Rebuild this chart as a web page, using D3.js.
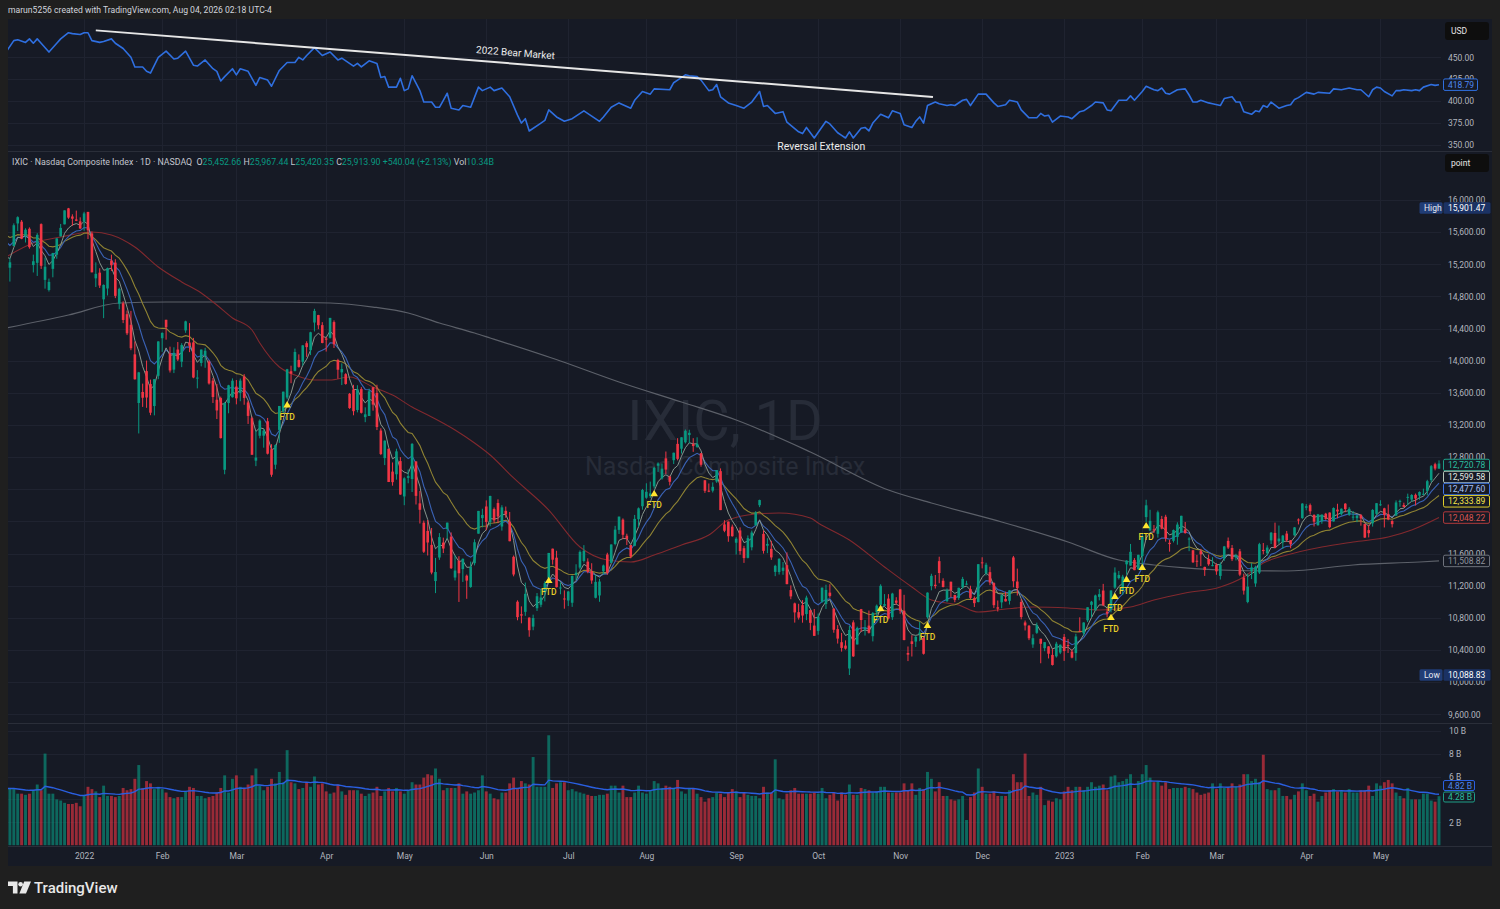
<!DOCTYPE html>
<html><head><meta charset="utf-8">
<script src="https://cdn.jsdelivr.net/npm/d3@7"></script>
<style>html,body{margin:0;padding:0;background:#1f1f1f;}svg{display:block;}</style>
</head><body>
<svg id="c" width="1500" height="909"></svg>
<script>
// ---------------- DATA ----------------
const holidays = ["2021-12-24","2022-01-17","2022-02-21","2022-04-15","2022-05-30","2022-06-20","2022-07-04","2022-09-05","2022-11-24","2022-12-26","2023-01-02","2023-01-16","2023-02-20","2023-04-07"];
const monthLabels = ["2022","Feb","Mar","Apr","May","Jun","Jul","Aug","Sep","Oct","Nov","Dec","2023","Feb","Mar","Apr","May"];

const opens = [
15404,15157,15427,15708,15730,15560,15642,15190,15218,15700,15006,14880,15143,15319,15547,15697,15896,15795,15758,15734,
15732,15852,15584,15025,15096,14764,14899,15246,15221,14709,14715,14579,14447,14079,13474,13611,13871,13710,13436,13812,
14280,14509,14090,13889,14139,13988,14377,14226,14228,13778,13972,14060,13990,13752,13514,13535,12643,13473,13546,
13678,13600,13803,13481,13284,12756,13066,13067,13247,12898,12706,13139,13370,13542,13869,13874,14010,13987,14218,14131,14475,14568,14443,
14277,14285,14481,14008,13855,13833,13588,13643,13387,13647,13298,13312,13670,13599,13131,12788,12904,12620,12587,12751,
12311,12542,12527,12747,12225,11984,11882,11708,11258,11551,11737,11906,11811,11302,11510,11407,11325,11184,11480,11848,12041,
12186,11994,12154,12229,11937,12132,11997,11560,11001,10845,10875,10803,10691,10920,10963,11116,11297,11661,11549,11178,11041,
11016,10988,11334,11426,11508,11500,11379,11050,11079,11379,11588,11484,11720,11895,12022,11822,11706,11697,12028,12189,
12295,12316,12437,12693,12535,12785,12558,12762,12965,12905,12985,13075,12963,12928,12849,12512,12383,12383,12497,12626,11963,11998,11935,
11735,11888,11667,11547,11678,11951,12202,11845,11698,11659,11372,11370,11385,11456,11146,10980,10871,10958,10847,10897,10704,
10638,11001,10973,11114,10913,10660,10497,10455,10170,10744,10469,10908,10654,10704,10572,10870,10963,10950,11040,10808,11016,
11154,10889,10363,10508,10505,10598,10548,10808,11196,11212,11506,11262,11010,11250,11084,11048,11181,11226,11158,11046,10997,
11491,11356,11369,11233,10932,10993,11036,11012,11552,11252,10998,10743,10702,10469,10614,10540,10423,10445,10339,10321,10368,
10563,10462,10380,10362,10638,10609,10770,10962,10893,11061,11140,10877,10902,11177,11295,11139,11466,11451,11521,11404,
11568,12054,11888,11901,11846,12030,12058,11734,11759,11807,11864,11900,11779,11641,11511,11631,11434,11533,11453,
11459,11322,11537,11758,11669,11551,11628,11302,10998,11380,11228,11364,11646,11604,11764,11857,11752,11739,11849,11766,11827,12024,12042,
12170,12203,12081,11953,12002,12096,12110,12000,12147,12090,12221,12083,12050,12041,12079,11967,11892,11976,12095,
12210,12163,12092,12006,12073,12243,12204,12306,12272,12331,12321,12336,12380,12514,12712,12657];

const highs = [
15422,15280,15709,15797,15751,15648,15659,15320,15587,15709,15284,15022,15342,15524,15702,15871,15901.47,15822,15868,15784,
15853,15852,15608,15224,15151,14950,15159,15320,15263,14909,14740,14624,14620,14239,13861,13715,14002,13765,13771,14242,
14353,14510,14175,14167,14233,14218,14498,14468,14284,13883,14139,14161,14005,13785,13711,13553,13484,13700,13780,
13760,13778,13833,13501,13305,13132,13270,13150,13288,12961,12960,13437,13615,13899,13938,14151,14079,14194,14242,14360,14646,14571,14480,
14296,14533,14502,14024,13967,13845,13598,13700,13695,13671,13420,13652,13673,13701,13159,13008,12904,12734,12905,12800,
12549,12646,12975,12747,12379,12011,12018,11919,11546,11855,11798,11984,11863,11579,11567,11539,11339,11500,11778,12131,12158,
12262,12320,12174,12275,12202,12185,12118,11576,11018,10943,11239,10807,10840,11109,11148,11257,11608,11662,11635,11240,11142,
11135,11326,11467,11639,11705,11541,11480,11334,11286,11463,11610,11714,11945,12060,12038,11847,11706,12081,12174,12405,
12475,12496,12681,12735,12719,12870,12569,12856,13036,13047,13144,13141,13036,13047,12849,12514,12472,12486,12639,12660,12015,12000,11961,
11804,11926,11696,11826,11886,12128,12271,11887,11791,11759,11461,11541,11495,11615,11204,10990,10975,11021,11076,10898,10910,
10854,11177,11213,11219,10923,10710,10613,10520,10701,10770,10691,10911,10773,10891,10873,10966,11218,11096,11095,11112,11057,
11158,11087,10444,10584,10578,10749,10563,11117,11349,11334,11561,11293,11166,11250,11088,11176,11310,11262,11200,11066,11468,
11554,11486,11436,11244,11016,11094,11126,11143,11571,11413,11032,10767,10712,10595,10741,10540,10498,10447,10414,10502,10468,
10599,10538,10410,10602,10807,10746,10933,11011,11089,11159,11223,10922,11144,11428,11384,11336,11518,11720,11544,11585,
11849,12270,12145,11955,12135,12069,12083,11771,11899,11989,12071,11993,11803,11647,11584,11658,11437,11589,11555,
11480,11491,11695,11800,11707,11598,11658,11350,11351,11481,11449,11734,11732,11703,11869,11985,11949,11832,11882,11767,11929,12038,12227,
12216,12223,12089,12094,12086,12107,12113,12175,12220,12162,12228,12178,12130,12083,12093,11974,11959,12153,12227,
12264,12170,12211,12015,12262,12271,12233,12346,12340,12347,12374,12408,12518,12702,12731,12760];

const lows = [
14931,14985,15427,15615,15512,15471,15394,15098,15055,15142,14897,14861,15038,15269,15547,15697,15766,15679,15737,15643,
15618,15514,15100,14917,14905,14530,14812,15117,14779,14640,14468,14319,14131,13765,13095,13425,13414,13322,13320,13770,
14110,14262,13853,13846,13996,13920,14347,14107,13782,13656,13930,13912,13703,13474,13274,13032,12587,13346,13541,
13457,13496,13452,13213,12828,12688,13034,12918,12833,12555,12650,12978,13344,13520,13720,13867,13913,13938,14048,14070,14364,14392,14217,
14114,14275,14158,13776,13697,13702,13400,13321,13357,13343,13235,13312,13378,13137,12826,12701,12490,12445,12520,12331,
12202,12475,12366,12211,11974,11607,11576,11342,11108,11522,11606,11779,11408,11265,10998,11247,11037,11174,11453,11848,11927,
11890,11940,11980,11979,11885,12046,11753,11317,10770,10732,10825,10565,10646,10886,10933,11005,11296,11463,11178,11094,10914,
10947,10937,11271,11404,11488,11355,11224,11042,11000,11341,11337,11484,11703,11844,11780,11706,11541,11691,11929,12146,
12282,12291,12410,12616,12520,12589,12448,12714,12760,12845,12970,12975,12866,12916,12681,12355,12364,12360,12480,12141,11866,11747,11811,
11588,11586,11484,11540,11640,11951,12178,11600,11605,11522,11319,11339,11336,11218,11032,10741,10779,10740,10771,10647,10575,
10590,10988,10910,11050,10615,10480,10380,10405,10088.83,10314,10469,10625,10580,10605,10507,10760,10950,10945,10781,10775,10964,
10850,10521,10262,10319,10438,10510,10343,10790,11143,11165,11231,11179,10995,11057,10994,11024,11161,11209,11032,10935,10993,
11416,11327,11207,10922,10879,10919,11003,10966,11180,11078,10782,10643,10523,10427,10601,10235,10385,10295,10207,10306,10349,
10265,10363,10296,10266,10626,10577,10748,10807,10891,11017,10945,10807,10868,11161,11278,11084,11337,11449,11393,11403,
11443,11994,11883,11857,11798,11902,11749,11624,11738,11710,11858,11848,11630,11483,11434,11444,11322,11448,11442,
11336,11277,11510,11657,11507,11515,11319,11090,10982,11283,11186,11346,11591,11573,11719,11665,11723,11657,11745,11666,11821,11963,12032,
12139,12090,11937,11947,11971,12020,11915,11997,12039,12074,12115,12069,12012,11990,11947,11795,11801,11936,12080,
12193,11925,12015,11925,12071,12182,12175,12202,12245,12199,12271,12328,12324,12486,12636,12656];

const closes = [
15085,15225,15686,15786,15518,15630,15413,15238,15566,15181,15170,14981,15341,15522,15653,15871,15781,15767,15741,15645,
15833,15623,15100,15081,14936,14943,15153,15188,14807,14894,14507,14341,14155,13769,13855,13539,13542,13353,13771,14240,
14346,14417,13879,14098,14015,14195,14490,14186,13791,13790,14139,14124,13717,13548,13381,13037,13473,13694,13751,
13532,13752,13537,13313,12830,12795,13255,13130,12843,12581,12949,13437,13615,13894,13839,14109,13923,14191,14169,14354,14620,14442,14221,
14262,14533,14204,13888,13897,13711,13411,13372,13644,13352,13333,13619,13454,13175,12839,13005,12491,12489,12872,12335,
12536,12564,12965,12318,12145,11623,11738,11364,11371,11805,11663,11985,11418,11389,11355,11535,11264,11434,11741,12131,12081,
11994,12317,12013,12061,12175,12086,11754,11340,10809,10828,11099,10646,10798,11069,11053,11232,11608,11524,11182,11178,11029,
11128,11322,11362,11621,11635,11372,11265,11248,11252,11452,11360,11713,11898,12060,11834,11782,11563,12032,12163,12391,
12369,12349,12668,12721,12657,12645,12493,12855,12779,13047,13128,13103,12938,12966,12705,12381,12381,12431,12639,12141,11884,11816,11816,
11785,11631,11544,11792,11862,12112,12266,11634,11720,11552,11448,11535,11425,11220,11067,10868,10803,10829,11052,10738,10576,
10815,11176,11148,11073,10652,10542,10426,10417,10649,10321,10675,10773,10680,10614,10860,10952,11199,10971,10792,11102,10988,
10890,10524,10342,10475,10564,10616,10353,11114,11323,11196,11358,11184,11144,11146,11024,11174,11285,11226,11049,10983,11468,
11482,11461,11240,10958,10914,11082,11005,11143,11256,11170,10811,10705,10546,10547,10709,10477,10498,10354,10214,10479,10466,
10387,10459,10305,10569,10636,10742,10932,11001,11079,11095,10958,10852,11140,11364,11334,11313,11512,11622,11394,11585,
11816,12201,12007,11887,12114,11910,11790,11718,11892,11961,12070,11855,11787,11492,11507,11590,11395,11467,11456,
11379,11462,11689,11675,11530,11576,11338,11139,11189,11428,11434,11717,11631,11675,11860,11670,11787,11824,11768,11716,11926,12013,12222,
12189,12126,11997,12088,12085,12032,11929,12167,12124,12158,12154,12157,12060,12073,12037,11799,11854,12143,12227,
12213,12081,12025,11966,12236,12256,12180,12306,12329,12285,12366,12344,12501,12688,12658,12720.78];

// volume in billions
const volumes = [
5.7,5.0,4.9,4.5,4.5,4.4,4.5,4.8,5.3,4.8, 8.0,4.5,4.5,4.0,3.9,3.7,3.6,3.6,3.7,3.4,
4.3,5.1,4.9,4.7,4.2,5.2,4.3,4.3,4.2,4.3, 5.0,4.8,4.9,5.8,7.0,5.0,5.6,5.4,4.9,5.1,
4.9,4.6,4.2,4.1,4.2,4.2,4.7,5.1,5.0,4.3, 4.3,4.1,4.2,4.3,4.6,5.0,6.1,4.6,5.8,6.1,
5.1,5.0,5.3,6.1,6.7,5.2,4.8,5.1,5.8,5.4, 6.4,5.5,8.3,5.5,5.4,4.9,5.0,5.5,5.1,6.0,
5.3,5.4,4.7,4.5,4.6,5.3,4.7,4.4,4.8,4.8, 4.8,4.5,4.3,4.5,4.6,5.1,4.3,4.7,5.0,4.7,
5.0,4.7,4.5,4.8,5.5,5.3,5.3,5.9,6.2,6.1, 6.7,5.8,4.8,5.0,5.0,5.0,5.4,4.5,4.7,4.5,
4.6,4.8,6.1,4.7,4.5,4.1,4.0,4.6,4.6,5.4, 5.9,4.9,5.6,5.4,5.3,7.7,5.1,5.1,5.1,9.6,
5.0,5.4,5.5,5.5,4.8,4.9,4.7,4.6,4.5,4.4, 4.3,4.3,4.4,4.4,4.5,5.2,5.2,4.6,5.2,4.2,
4.2,4.6,5.2,4.6,4.5,4.8,5.6,5.4,5.0,5.2, 5.1,5.0,5.7,4.7,4.5,5.0,5.0,4.5,4.2,3.8,
4.1,4.2,4.6,4.5,4.2,4.6,4.9,4.7,4.2,4.6, 4.4,4.3,4.3,4.1,5.1,4.6,4.6,7.5,4.1,4.0,
4.5,4.8,5.0,4.5,4.5,4.5,4.5,4.6,4.5,5.0, 4.1,4.4,4.6,3.9,4.6,4.4,5.3,4.4,4.4,5.0,
4.9,4.8,4.6,4.7,5.1,5.1,4.6,4.6,4.6,4.6, 5.4,4.8,5.4,4.4,5.0,4.9,6.4,5.8,4.7,5.5,
4.3,4.3,4.0,3.9,4.0,4.3,2.2,4.2,4.6,6.7, 5.1,4.5,4.5,4.7,4.3,4.3,4.3,4.8,6.2,5.5,
5.5,8.0,4.3,4.6,4.4,5.1,3.5,3.9,3.8,4.1, 4.0,4.7,5.1,4.8,5.1,5.1,4.8,5.1,5.5,5.1,
5.2,5.3,4.8,6.0,6.1,5.5,5.6,5.8,6.2,5.0, 5.6,6.2,7.0,5.9,5.5,5.6,5.2,5.5,4.9,5.0,
5.0,5.0,5.1,5.0,4.9,4.6,4.4,4.5,4.6,5.4, 4.9,5.4,5.0,5.0,5.4,5.1,5.3,6.2,6.2,5.6,
5.8,5.5,7.9,4.9,4.8,4.8,5.0,4.3,4.3,4.0, 4.4,4.7,5.4,4.8,4.3,4.5,3.8,4.3,4.6,4.8,
4.9,4.7,4.8,4.6,4.9,4.6,4.6,4.8,4.8,5.2, 4.3,5.4,5.2,5.5,5.7,5.4,4.6,4.3,4.1,5.0,
4.0,4.0,4.0,4.5,4.5,3.9,3.8,4.28];

// top pane comparison line (SPY close), read at bar positions
const spyBar = [0,2,3,5,6,7,8,9,11,13,14,16,17,19,20,21,22,24,25,27,28,30,32,33,35,36,37,39,41,43,44,46,48,49,51,53,54,55,56,58,59,60,62,64,65,67,68,70,72,74,75,76,77,79,81,83,85,86,89,90,91,93,95,96,97,98,100,101,102,103,104,106,107,109,110,111,112,113,114,116,117,119,121,122,124,125,127,129,131,132,133,134,137,138,139,141,143,145,148,150,152,153,155,157,158,160,161,163,165,166,170,171,172,174,175,177,178,180,181,182,183,185,187,189,191,193,194,195,197,199,200,203,204,205,207,210,211,213,214,215,216,217,219,220,221,222,224,226,227,229,230,232,233,234,235,236,238,239,241,242,243,245,246,247,249,251,253,254,256,257,259,260,262,264,265,266,267,268,270,272,273,275,276,278,279,281,282,283,285,287,288,289,291,292,294,295,296,297,298,300,302,303,304,305,306,308,309,311,312,314,315,316,317,319,320,321,322,323,324,326,328,329,330,331,333,335,336,339,340,342,344,346,347,349,350,351,352,353,355,356,357,358,360,361,362,363,365,366,367];
const spyClose = [456,469,470,467,471,466,471,466,456,466,471,478,477,476,478,478,469,467,468,471,466,460,450,439,439,434,432,450,457,448,449,457,441,440,447,437,434,423,428,437,430,437,434,418,427,424,417,435,444,444,450,447,452,461,452,456,447,449,440,443,439,446,443,427,428,416,416,426,412,414,429,412,399,399,393,393,401,409,392,390,395,393,416,412,416,412,415,405,384,375,380,366,375,378,390,382,377,380,389,383,377,382,393,398,396,392,401,411,408,414,413,421,424,430,429,428,424,412,413,419,405,398,395,392,399,411,394,395,386,388,376,365,363,370,358,377,374,364,361,358,365,358,369,370,366,375,385,381,389,386,373,370,377,382,375,395,399,397,395,396,395,401,402,395,408,408,398,394,396,401,399,390,381,381,386,383,384,376,383,382,380,388,389,395,399,398,390,389,401,401,406,401,411,417,413,412,415,409,408,413,414,407,399,399,401,398,397,395,403,405,399,399,388,385,389,388,395,393,399,392,395,396,402,404,410,408,410,409,414,413,415,413,413,405,413,416,415,411,406,412,412,413,412,413,412,416,419,418,418.79];

// 50-day and 200-day moving averages
const sma50Bar = [0,7,14,22,27,33,39,45,50,54,58,63,65,70,74,79,83,88,94,99,104,109,115,120,124,130,139,147,154,160,166,173,180,185,192,198,206,208,216,225,232,237,244,249,256,263,272,280,288,294,302,311,317,322,328,337,345,354,360,367];
const sma50Val = [15291,15465,15540,15602,15564,15415,15166,14980,14843,14693,14532,14382,14220,13922,13822,13760,13760,13797,13673,13573,13424,13300,13138,12976,12827,12541,12142,11682,11520,11495,11582,11707,11831,12018,12093,12105,12043,11981,11769,11433,11184,11022,10960,10873,10910,10935,10923,10898,10935,11022,11109,11184,11309,11483,11582,11682,11744,11806,11893,12048.22];
const sma200Bar = [0,16,29,41,63,83,94,103,111,120,124,142,157,173,187,206,226,237,255,272,285,294,302,311,328,345,362,367];
const sma200Val = [14407,14569,14718,14731,14731,14718,14668,14594,14469,14345,14283,13996,13735,13486,13262,12864,12391,12229,11993,11744,11520,11458,11421,11396,11383,11458,11495,11508.82];
// starting values of the exponential averages, read at the first bar
const emaSeed = {e5: 15294, e10: 15481, e21: 15564, vol: 4.95};

// FTD markers (bar, price under the bar)
const ftdBar = [72,139,166,224,236,283,284,287,291,292];
const ftdPrice = [13454,11268,12348,10920,10709,10808,11069,11280,11429,11951];

// trendline drawing on top pane
const trendBar = [23, 237.4];
const trendVal = [480.7, 404.8];

const priceTicks = [9600,10000,10400,10800,11200,11600,12800,13200,13600,14000,14400,14800,15200,15600,16000];
const volTicks = [2,6,8,10];
const spyTicks = [350,375,400,425,450];
const lastLabels = {close: 12720.78, e5: 12599.58, e10: 12477.60, e21: 12333.89, s50: 12048.22, s200: 11508.82, hi: 15901.47, lo: 10088.83, spy: 418.79, volMA: 4.82, vol: 4.28};

// ---------------- DRAW ----------------
const F = "Roboto, 'Noto Sans', 'DejaVu Sans', sans-serif";
const svg = d3.select("#c");
const defs = svg.append("defs");
function clip(id,x0,y0,x1,y1){defs.append("clipPath").attr("id",id).append("rect").attr("x",x0).attr("y",y0).attr("width",x1-x0).attr("height",y1-y0);}
const PL=8, PR=1441;
clip("cTop",PL,19,PR,151); clip("cMain",PL,152,PR,723); clip("cVol",PL,724,PR,846);

svg.append("rect").attr("width",1500).attr("height",909).attr("fill","#1f1f1f");
svg.append("rect").attr("x",8).attr("y",19).attr("width",1484).attr("height",847).attr("fill","#161a25");

// trading dates
const dates=[];
for(let d=new Date(Date.UTC(2021,11,3)); d<=new Date(Date.UTC(2023,4,22)); d=new Date(d.getTime()+864e5)){
  const w=d.getUTCDay(), s=d.toISOString().slice(0,10);
  if(w===0||w===6||holidays.includes(s)) continue;
  dates.push(d);
}
const monthStarts=[];
for(let i=1;i<dates.length;i++) if(dates[i].getUTCMonth()!==dates[i-1].getUTCMonth()) monthStarts.push(i);

const n = closes.length;
const x = d3.scaleLinear().domain([0, n-1]).range([6, 1439]);
const yP = d3.scaleLinear().domain([9600,16000]).range([714.3,200]);
const yV = d3.scaleLinear().domain([0,10]).range([845.2,730.7]);
const yS = d3.scaleLinear().domain([350,450]).range([145,57.3]);

// grid
const grid = svg.append("g").attr("stroke","#1f2330").attr("stroke-width",1);
monthStarts.forEach(i=>{ const xx=Math.round(x(i))+0.5; grid.append("line").attr("x1",xx).attr("x2",xx).attr("y1",19).attr("y2",846); });
d3.range(9600,16001,400).forEach(p=>{const yy=Math.round(yP(p))+0.5; grid.append("line").attr("x1",PL).attr("x2",PR).attr("y1",yy).attr("y2",yy);});
spyTicks.forEach(p=>{const yy=Math.round(yS(p))+0.5; grid.append("line").attr("x1",PL).attr("x2",PR).attr("y1",yy).attr("y2",yy);});
[2,4,6,8,10].forEach(p=>{const yy=Math.round(yV(p))+0.5; grid.append("line").attr("x1",PL).attr("x2",PR).attr("y1",yy).attr("y2",yy);});

// separators
const sep = svg.append("g").attr("stroke","#2a2e39").attr("stroke-width",1);
[151.5,723.5,846.5].forEach(yy=>sep.append("line").attr("x1",8).attr("x2",1492).attr("y1",yy).attr("y2",yy));

// watermark
svg.append("text").attr("x",725).attr("y",440).attr("text-anchor","middle").attr("font-family",F).attr("font-size",56).attr("fill","#272c38").text("IXIC, 1D");
svg.append("text").attr("x",725).attr("y",475).attr("text-anchor","middle").attr("font-family",F).attr("font-size",25).attr("fill","#272c38").text("Nasdaq Composite Index");

// header
svg.append("text").attr("x",8).attr("y",13).attr("font-family",F).attr("font-size",8.6).attr("fill","#d1d4dc").text("marun5256 created with TradingView.com, Aug 04, 2026 02:18 UTC-4");

// ---- top pane
const gTop = svg.append("g").attr("clip-path","url(#cTop)");
const spyPts = spyBar.map((b,i)=>[x(b), yS(spyClose[i])]);
gTop.append("path").attr("d", d3.line()(spyPts)).attr("fill","none").attr("stroke","#2f6fe0").attr("stroke-width",1.6).attr("stroke-linejoin","round");
const t0=[x(trendBar[0]),yS(trendVal[0])], t1=[x(trendBar[1]),yS(trendVal[1])];
gTop.append("line").attr("x1",t0[0]).attr("y1",t0[1]).attr("x2",t1[0]).attr("y2",t1[1]).attr("stroke","#e6e6e6").attr("stroke-width",2);
const ang = Math.atan2(t1[1]-t0[1], t1[0]-t0[0])*180/Math.PI;
const bmX = x(130.4), bmY = yS(451.3);
svg.append("text").attr("x",bmX).attr("y",bmY).attr("text-anchor","middle").attr("transform",`rotate(${ang},${bmX},${bmY})`).attr("font-family",F).attr("font-size",10).attr("fill","#ececec").text("2022 Bear Market");
svg.append("text").attr("x",x(208.8)).attr("y",yS(344.3)).attr("text-anchor","middle").attr("font-family",F).attr("font-size",10.5).attr("fill","#ececec").text("Reversal Extension");

// ---- main pane
const gMain = svg.append("g").attr("clip-path","url(#cMain)");
const GREEN="#089981", RED="#f23645";
function ema(arr, period, seed){ const k=2/(period+1); const out=[seed]; for(let i=1;i<arr.length;i++) out.push(arr[i]*k + out[i-1]*(1-k)); return out; }
const e5 = ema(closes,5,emaSeed.e5), e10 = ema(closes,10,emaSeed.e10), e21 = ema(closes,21,emaSeed.e21);
const lineIdx = d3.line().x((d,i)=>x(i)).y(d=>yP(d));
const lineBV = (bars, vals)=> d3.line().curve(d3.curveMonotoneX)(bars.map((b,i)=>[x(b), yP(vals[i])]));
gMain.append("path").attr("d", lineBV(sma200Bar, sma200Val)).attr("fill","none").attr("stroke","#5c6069").attr("stroke-width",1.2);
gMain.append("path").attr("d", lineBV(sma50Bar, sma50Val)).attr("fill","none").attr("stroke","#82292e").attr("stroke-width",1.1);
gMain.append("path").attr("d", lineIdx(e21)).attr("fill","none").attr("stroke","#8f8333").attr("stroke-width",1.1);
gMain.append("path").attr("d", lineIdx(e10)).attr("fill","none").attr("stroke","#3a62b4").attr("stroke-width",1.1);
gMain.append("path").attr("d", lineIdx(e5)).attr("fill","none").attr("stroke","#86958c").attr("stroke-width",1);

const candles = gMain.append("g");
const bw = 2.6;
for(let i=0;i<n;i++){
  const o=opens[i], c=closes[i], h=Math.max(highs[i],o,c), l=Math.min(lows[i],o,c);
  const col = c>=o ? GREEN : RED;
  const cx = x(i);
  candles.append("line").attr("x1",cx).attr("x2",cx).attr("y1",yP(h)).attr("y2",yP(l)).attr("stroke",col).attr("stroke-width",1);
  const yt=yP(Math.max(o,c)), yb=yP(Math.min(o,c));
  candles.append("rect").attr("x",cx-bw/2).attr("y",yt).attr("width",bw).attr("height",Math.max(1,yb-yt)).attr("fill",col);
}
// FTD markers
const gF = svg.append("g");
ftdBar.forEach((b,i)=>{
  const fx=x(b), fy=yP(ftdPrice[i]);
  gF.append("path").attr("d",`M${fx},${fy-3.5}L${fx+3.8},${fy+2.8}L${fx-3.8},${fy+2.8}Z`).attr("fill","#ffe52e");
  gF.append("text").attr("x",fx).attr("y",fy+15).attr("text-anchor","middle").attr("font-family",F).attr("font-size",8.5).attr("font-weight",500).attr("fill","#e8cf2a").text("FTD");
});

// legend
const leg = svg.append("text").attr("x",12).attr("y",165).attr("font-family",F).attr("font-size",8.8).attr("fill","#c3c6ce");
[["IXIC · Nasdaq Composite Index · 1D · NASDAQ  ","#c3c6ce"],["O","#c3c6ce"],["25,452.66 ",GREEN],["H","#c3c6ce"],["25,967.44 ",GREEN],["L","#c3c6ce"],["25,420.35 ",GREEN],["C","#c3c6ce"],["25,913.90 ",GREEN],["+540.04 (+2.13%) ",GREEN],["Vol","#c3c6ce"],["10.34B",GREEN]]
 .forEach(([t,c])=>leg.append("tspan").attr("fill",c).attr("xml:space","preserve").text(t));

// ---- volume pane
const gVol = svg.append("g").attr("clip-path","url(#cVol)");
for(let i=0;i<n;i++){
  const col = closes[i]>=opens[i] ? "rgba(8,153,129,0.62)" : "rgba(242,54,69,0.6)";
  gVol.append("rect").attr("x",x(i)-1.45).attr("width",2.9).attr("y",yV(volumes[i])).attr("height",yV(0)-yV(volumes[i])).attr("fill",col);
}
const vma = ema(volumes,20,emaSeed.vol);
gVol.append("path").attr("d", d3.line().x((d,i)=>x(i)).y(d=>yV(d))(vma)).attr("fill","none").attr("stroke","#2a5fe0").attr("stroke-width",1.4);

// ---- axes
function styleAxis(g){ g.select(".domain").remove(); g.selectAll("text").attr("font-family",F).attr("font-size",8.5).attr("fill","#b2b5be"); }
svg.append("g").attr("transform",`translate(${PR},0)`).call(d3.axisRight(yP).tickValues(priceTicks).tickFormat(d3.format(",.2f")).tickSize(0).tickPadding(7)).call(styleAxis);
svg.append("g").attr("transform",`translate(${PR},0)`).call(d3.axisRight(yS).tickValues(spyTicks).tickFormat(d3.format(".2f")).tickSize(0).tickPadding(7)).call(styleAxis);
svg.append("g").attr("transform",`translate(${PR},0)`).call(d3.axisRight(yV).tickValues(volTicks).tickFormat(d=>d+" B").tickSize(0).tickPadding(8)).call(styleAxis);
svg.append("g").attr("transform",`translate(0,850)`).call(d3.axisBottom(x).tickValues(monthStarts).tickFormat((d,i)=>monthLabels[i]).tickSize(0).tickPadding(3)).call(styleAxis);

// ---- value boxes
function box(xx, yc, w, text, fill, stroke, color, h=11.5){
  svg.append("rect").attr("x",xx+0.5).attr("y",yc-h/2).attr("width",w).attr("height",h).attr("rx",1.5).attr("fill",fill).attr("stroke",stroke||"none");
  svg.append("text").attr("x",xx+5).attr("y",yc+3.1).attr("font-family",F).attr("font-size",8.5).attr("fill",color).text(text);
}
const fmt = d3.format(",.2f");
box(1419, yP(lastLabels.hi), 23, "High", "#213d76", null, "#e6e9f0");
box(1443, yP(lastLabels.hi), 47, fmt(lastLabels.hi), "#1b3264", null, "#ffffff");
box(1419, yP(lastLabels.lo), 23, "Low", "#213d76", null, "#e6e9f0");
box(1443, yP(lastLabels.lo), 47, fmt(lastLabels.lo), "#1b3264", null, "#ffffff");
box(1443, 465, 46, fmt(lastLabels.close), "#161a25", "#1e9e87", "#2bbd9f");
box(1443, 477, 46, fmt(lastLabels.e5), "#161a25", "#b6c6b8", "#e2e8e2");
box(1443, 489, 46, fmt(lastLabels.e10), "#161a25", "#3e74e6", "#a8c0f5");
box(1443, 501.3, 46, fmt(lastLabels.e21), "#161a25", "#e0cd2a", "#f5e54a");
box(1443, yP(lastLabels.s50), 46, fmt(lastLabels.s50), "#161a25", "#b03a3c", "#d9534f");
box(1443, yP(lastLabels.s200), 46, fmt(lastLabels.s200), "#161a25", "#6e727c", "#8f939c");
box(1443, yS(lastLabels.spy), 34, d3.format(".2f")(lastLabels.spy), "#161a25", "#2f6fe0", "#4c86f0");
box(1443, 785.5, 31, lastLabels.volMA.toFixed(2)+" B", "#161a25", "#2a5fe0", "#4c86f0", 10);
box(1443, 797, 31, lastLabels.vol.toFixed(2)+" B", "#161a25", "#1e9e87", "#2bbd9f", 10);

// USD / point buttons
svg.append("rect").attr("x",1445).attr("y",22).attr("width",44).attr("height",18).attr("rx",3).attr("fill","#0e0e0e");
svg.append("text").attr("x",1451).attr("y",34).attr("font-family",F).attr("font-size",8.5).attr("fill","#e6e6e6").text("USD");
svg.append("rect").attr("x",1445).attr("y",154).attr("width",44).attr("height",18).attr("rx",3).attr("fill","#0e0e0e");
svg.append("text").attr("x",1451).attr("y",166).attr("font-family",F).attr("font-size",8.5).attr("fill","#e6e6e6").text("point");

// footer logo
const lg = svg.append("g").attr("fill","#e8e8e8");
lg.append("path").attr("d","M8,881.5h9.5v12h-4.6v-7.4h-4.9z");
lg.append("circle").attr("cx",20.6).attr("cy",884.2).attr("r",2.3);
lg.append("path").attr("d","M24.2,881.5h6.8l-5,12h-6.6z");
svg.append("text").attr("x",34).attr("y",893).attr("font-family",F).attr("font-size",15).attr("font-weight",500).attr("fill","#e8e8e8").text("TradingView");

if(opens.length!==n||highs.length!==n||lows.length!==n||volumes.length!==n||dates.length!==n){
  svg.append("text").attr("x",300).attr("y",300).attr("fill","red").attr("font-size",20).text(`len o${opens.length} h${highs.length} l${lows.length} c${n} v${volumes.length} d${dates.length}`);
}
</script>
</body></html>
